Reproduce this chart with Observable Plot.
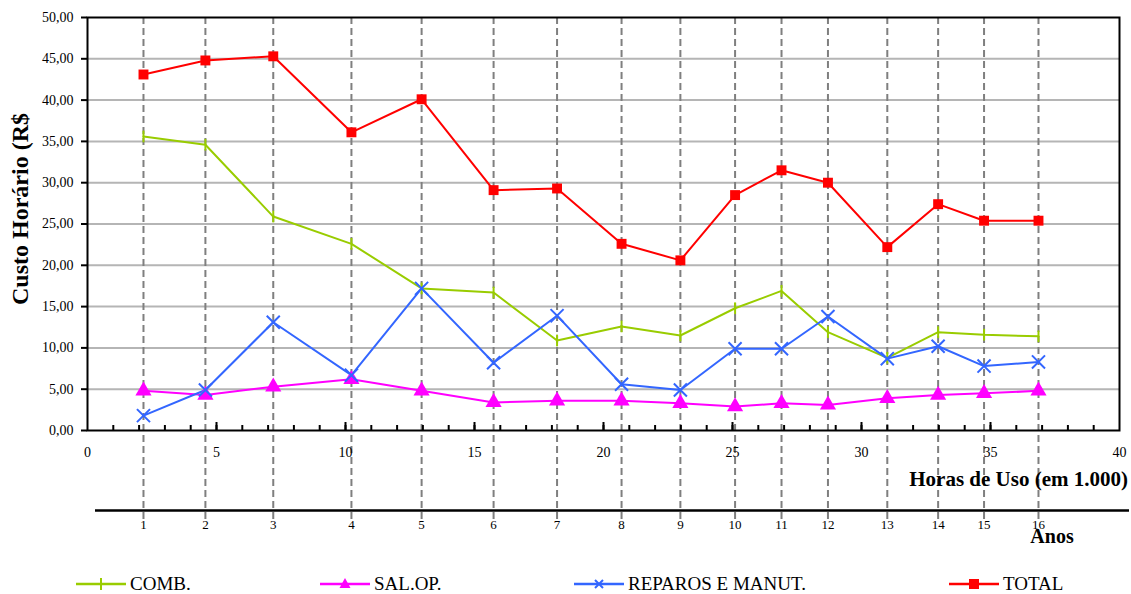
<!DOCTYPE html>
<html>
<head>
<meta charset="utf-8">
<script src="https://cdn.jsdelivr.net/npm/d3@7"></script>
<script src="https://cdn.jsdelivr.net/npm/@observablehq/plot@0.6"></script>
<style>
  html, body { margin: 0; padding: 0; background: #fff; }
  #wrap { position: relative; width: 1131px; height: 594px; overflow: hidden; font-family: "Liberation Serif", "Times New Roman", serif; }
  .lg { position: absolute; top: 574px; height: 20px; line-height: 20px; display: flex; align-items: center; font-size: 19px; color: #000; white-space: nowrap; font-family: "Liberation Serif", serif; }
  .lg svg { margin-right: 4px; }
</style>
</head>
<body>
<div id="wrap"></div>
<script>
// ---- data ----
const hours   = [2.17, 4.57, 7.2, 10.23, 12.95, 15.74, 18.2, 20.7, 22.98, 25.1, 26.9, 28.7, 31.0, 32.97, 34.75, 36.86];
const anos    = [1, 2, 3, 4, 5, 6, 7, 8, 9, 10, 11, 12, 13, 14, 15, 16];
const comb    = [35.6, 34.6, 25.9, 22.6, 17.2, 16.7, 10.9, 12.6, 11.5, 14.8, 16.9, 11.9, 8.8, 11.9, 11.6, 11.4];
const salop   = [4.8, 4.3, 5.3, 6.2, 4.8, 3.4, 3.6, 3.6, 3.3, 2.9, 3.3, 3.1, 3.9, 4.3, 4.5, 4.8];
const reparos = [1.8, 4.9, 13.1, 6.7, 17.2, 8.2, 13.9, 5.6, 4.9, 9.9, 9.9, 13.8, 8.7, 10.2, 7.8, 8.3];
const total   = [43.1, 44.8, 45.3, 36.1, 40.1, 29.1, 29.3, 22.6, 20.6, 28.5, 31.5, 30.0, 22.2, 27.4, 25.4, 25.4];
const seriesNames = ["COMB.", "SAL.OP.", "REPAROS E MANUT.", "TOTAL"];
const seriesColors = ["#99cc00", "#ff00ff", "#3366ff", "#ff0000"];
const xTicks = [0, 5, 10, 15, 20, 25, 30, 35, 40];
const yTicks = [0, 5, 10, 15, 20, 25, 30, 35, 40, 45, 50];

const seriesValues = [comb, salop, reparos, total];
const rows = [];
seriesNames.forEach((s, k) => hours.forEach((h, i) => rows.push({s, h, v: seriesValues[k][i]})));

const vbar = { draw(ctx, size) { const h = Math.sqrt(size) * 0.55; ctx.moveTo(0, -h); ctx.lineTo(0, h); } };
const symbolFor = {"COMB.": vbar, "SAL.OP.": "triangle", "REPAROS E MANUT.": "times", "TOTAL": "square"};

const fmt = d => d.toFixed(2).replace(".", ",");
const W = 1131, H = 570;
const serif = "'Liberation Serif', 'Times New Roman', serif";

const plot = Plot.plot({
  width: W, height: H,
  marginLeft: 87, marginRight: 12, marginTop: 17, marginBottom: H - 430,
  style: {fontFamily: serif, fontSize: "14px", color: "#000", background: "#fff", overflow: "visible"},
  x: {domain: [0, 40]},
  y: {domain: [0, 50]},
  color: {domain: seriesNames, range: seriesColors},
  marks: [
    Plot.gridY(yTicks.filter(d => d > 0 && d < 50), {stroke: "#b5b5b5", strokeOpacity: 1, strokeWidth: 2}),
    Plot.ruleX(hours, {stroke: "#7f7f7f", strokeWidth: 2, strokeDasharray: "7,4", insetBottom: -89}),
    Plot.axisY({ticks: yTicks, tickFormat: fmt, tickSize: 6, tickPadding: 8, label: null, fontSize: 14, strokeWidth: 2}),
    Plot.axisX({ticks: xTicks, tickSize: 0, tickPadding: 17, label: null, fontSize: 14}),
    Plot.axisX({ticks: d3.range(1, 40), tickSize: 5, dy: -5, tickFormat: () => "", label: null, strokeWidth: 2}),
    Plot.axisX({ticks: xTicks.slice(1, -1), tickSize: 8, dy: -8, tickFormat: () => "", label: null, strokeWidth: 2}),
    Plot.axisX(hours, {tickFormat: d => String(anos[hours.indexOf(d)]), tickSize: 0, tickPadding: 5, dy: 84, label: null, fontSize: 13}),
    Plot.ruleY([0], {dy: 80, insetLeft: 8, insetRight: -10, stroke: "#000", strokeWidth: 2.5}),
    Plot.frame({stroke: "#000", strokeWidth: 2}),
    Plot.line(rows, {x: "h", y: "v", z: "s", stroke: "s", strokeWidth: 2}),
    ...seriesNames.map((s, k) => {
      const sym = symbolFor[s];
      const filled = (sym === "square" || sym === "triangle");
      return Plot.dot(rows.filter(r => r.s === s), {
        x: "h", y: "v", symbol: () => sym,
        r: sym === "square" ? 5.6 : 6,
        fill: filled ? seriesColors[k] : "none",
        stroke: seriesColors[k], strokeWidth: filled ? 0 : 2
      });
    })
  ]
});

const svg = d3.select(plot);
svg.append("text")
  .attr("transform", "translate(28,209) rotate(-90)")
  .attr("text-anchor", "middle")
  .attr("font-weight", "bold").attr("font-size", 24)
  .attr("fill", "#000")
  .text("Custo Horário (R$");
svg.append("text")
  .attr("x", 1128).attr("y", 486)
  .attr("text-anchor", "end")
  .attr("font-weight", "bold").attr("font-size", 21)
  .attr("fill", "#000")
  .text("Horas de Uso (em 1.000)");
svg.append("text")
  .attr("x", 1052).attr("y", 543)
  .attr("text-anchor", "middle")
  .attr("font-weight", "bold").attr("font-size", 20)
  .attr("fill", "#000")
  .text("Anos");

const wrap = document.getElementById("wrap");
wrap.appendChild(plot);

// ---- legend ----
const legendLeft = [76, 320, 574, 949];
seriesNames.forEach((s, k) => {
  const div = document.createElement("div");
  div.className = "lg";
  div.style.left = legendLeft[k] + "px";
  const sym = symbolFor[s];
  let marker = "";
  const c = seriesColors[k];
  if (sym === "square") marker = `<rect x="20" y="5" width="10" height="10" fill="${c}"/>`;
  else if (sym === "triangle") marker = `<path d="M25,4 L30.5,14 L19.5,14 Z" fill="${c}"/>`;
  else if (sym === "times") marker = `<path d="M21,6 L29,14 M29,6 L21,14" stroke="${c}" stroke-width="2"/>`;
  else marker = `<path d="M25,4 L25,16" stroke="${c}" stroke-width="2"/>`;
  div.innerHTML = `<svg width="50" height="20"><line x1="0" x2="50" y1="10" y2="10" stroke="${c}" stroke-width="2.5"/>${marker}</svg><span>${s}</span>`;
  wrap.appendChild(div);
});
</script>
</body>
</html>
